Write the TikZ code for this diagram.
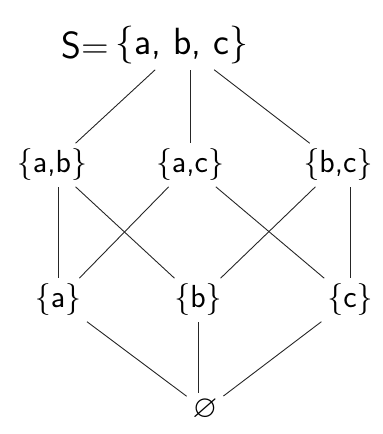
\documentclass[tikz,border=0pt]{standalone}
\usepackage{amssymb}
\usetikzlibrary{positioning}

\begin{document}
\begin{tikzpicture}[x=1bp, y=-1bp,
  set/.style={font=\sffamily\fontsize{32}{36}\selectfont, inner sep=5pt},
  top/.style={set, font=\sffamily\fontsize{38}{42}\selectfont},
  edge/.style={draw=black!85, line width=0.9pt, shorten <=1pt, shorten >=1pt}]
\useasboundingbox (0,0) rectangle (382,434);
% top element
\node[top] (abc) at (182,45) {\{a, b, c\}};
\node[top, left=-4pt of abc] (lbl) {S=};
% pairs
\node[set] (ab) at (52,165) {\{a,b\}};
\node[set] (ac) at (190,165) {\{a,c\}};
\node[set] (bc) at (338,165) {\{b,c\}};
% singletons
\node[set] (a) at (58,300) {\{a\}};
\node[set] (b) at (198,300) {\{b\}};
\node[set] (c) at (350,300) {\{c\}};
% bottom
\node[set] (e) at (205,410) {$\varnothing$};
% edges
\draw[edge] (abc) -- (ab);
\draw[edge] (abc.south -| ac) -- (ac);
\draw[edge] (abc) -- (bc);
\draw[edge] (ab.south -| a) -- (a);
\draw[edge] (ab) -- (b);
\draw[edge] (ac) -- (a);
\draw[edge] (ac) -- (c);
\draw[edge] (bc) -- (b);
\draw[edge] (bc.south -| c) -- (c);
\draw[edge] (a) -- (e);
\draw[edge] (b) -- (b |- e.north);
\draw[edge] (c) -- (e);
\end{tikzpicture}
\end{document}
